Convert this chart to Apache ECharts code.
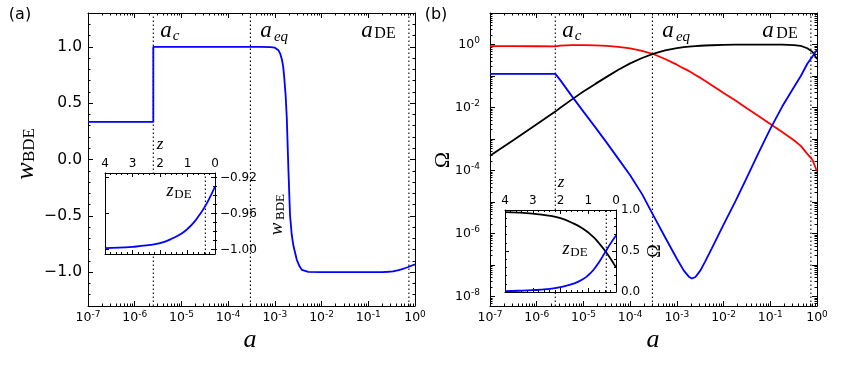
<!DOCTYPE html>
<html>
<head>
<meta charset="utf-8">
<script src="https://cdn.jsdelivr.net/npm/echarts@6/dist/echarts.min.js"></script>
<style>
  html, body { margin: 0; padding: 0; background: #fff; }
  #main { width: 843px; height: 369px; }
</style>
</head>
<body>
<div id="main"></div>
<script>
// (a) w_BDE against scale factor a
var aA = [1e-7, 2.5e-6, 2.5e-6, 1e-5, 1e-4, 5e-4, 8e-4, 1.0e-3, 1.19e-3, 1.3e-3, 1.41e-3, 1.5e-3,
  1.58e-3, 1.7e-3, 1.8e-3, 1.95e-3, 2.11e-3, 2.3e-3, 2.51e-3, 2.95e-3, 3.4e-3, 3.8e-3, 5.2e-3,
  1e-2, 3e-2, 0.1, 0.2, 0.27, 0.337, 0.424, 0.533, 0.625, 0.72, 0.833, 1.0];
var wA = [0.333, 0.333, 1.0, 1.0, 1.0, 1.0, 0.998, 0.992, 0.97, 0.94, 0.89, 0.83,
  0.74, 0.57, 0.37, -0.09, -0.49, -0.67, -0.77, -0.89, -0.95, -0.98, -0.998,
  -1.0, -1.0, -0.9995, -0.999, -0.996, -0.993, -0.984, -0.973, -0.963, -0.954, -0.943, -0.93];

// insets, against redshift z
var zIn = [4, 3.5, 3, 2.5, 2, 1.5, 1.2, 1.0, 0.8, 0.6, 0.4, 0.2, 0];
var wIn = [-0.9985, -0.998, -0.997, -0.9955, -0.993, -0.987, -0.982, -0.977, -0.971, -0.963, -0.954, -0.943, -0.930];
var omInM = [0.975, 0.968, 0.955, 0.935, 0.9, 0.83, 0.775, 0.725, 0.665, 0.59, 0.505, 0.41, 0.30];
var omInDE = [0.011, 0.015, 0.022, 0.035, 0.06, 0.105, 0.155, 0.205, 0.275, 0.37, 0.48, 0.59, 0.69];

// (b) density parameters
var aB = [1e-7, 3.2e-7, 1e-6, 2.5e-6, 3.2e-6, 5.6e-6, 1e-5, 1.8e-5, 3.2e-5, 5.6e-5, 1e-4,
  1.8e-4, 3.2e-4, 5.6e-4, 1e-3, 1.4e-3, 1.8e-3, 2.1e-3, 2.5e-3, 3.2e-3, 4e-3, 5.6e-3,
  1e-2, 1.8e-2, 3.2e-2, 5.6e-2, 0.1, 0.18, 0.32, 0.45, 0.62, 0.8, 1.0];
var omR = [0.883, 0.883, 0.881, 0.877, 0.918, 0.959, 0.962, 0.944, 0.906, 0.841, 0.750,
  0.631, 0.490, 0.347, 0.229, 0.174, 0.145, 0.126, 0.107, 0.0871, 0.0708, 0.0513,
  0.0288, 0.0166, 0.00933, 0.00537, 0.00302, 0.00166, 0.000912, 0.000603, 0.000339, 0.000219, 0.0000933];
var omM = [2.95e-4, 9.33e-4, 2.95e-3, 7.41e-3, 9.77e-3, 0.0178, 0.0324, 0.0562, 0.0955, 0.158, 0.251,
  0.372, 0.513, 0.652, 0.769, 0.824, 0.855, 0.875, 0.893, 0.914, 0.929, 0.948,
  0.970, 0.984, 0.991, 0.993, 0.995, 0.989, 0.955, 0.90, 0.759, 0.583, 0.347];
var omDE = [0.117, 0.117, 0.117, 0.117, 0.0741, 0.0234, 7.41e-3, 2.34e-3, 7.41e-4, 2.34e-4, 7.08e-5,
  1.78e-5, 3.55e-6, 7.59e-7, 1.58e-7, 6.76e-8, 4.27e-8, 3.72e-8, 4.17e-8, 6.76e-8, 1.26e-7, 3.39e-7,
  1.91e-6, 1.07e-5, 6.31e-5, 3.63e-4, 2.09e-3, 0.0107, 0.0437, 0.1, 0.245, 0.417, 0.676];

var aMarks = [2.5e-6, 3.0e-4, 0.74];   // a_c, a_eq, a_DE
var zDE = 0.35;
var yRangeA = [-1.3, 1.3];
var yRangeB = [5e-9, 10];
var yRangeInA = [-1.005, -0.915];
var yRangeInB = [0, 1];
var yTicksA = [-1.0, -0.5, 0.0, 0.5, 1.0];
var yTicksInA = [-1.00, -0.96, -0.92];
var yMinorInA = [-1.00, -0.99, -0.98, -0.97, -0.96, -0.95, -0.94, -0.93, -0.92];

var SANS = '"DejaVu Sans"';
var SERIF = '"Liberation Serif"';
var TICK = '#000';

function pairs(xs, ys) {
  return xs.map(function (x, i) { return [x, ys[i]]; });
}
function minus(v, d) {
  return (v < 0 ? '\u2212' : '') + Math.abs(v).toFixed(d);
}
function supFmt(v, evenOnly) {
  var e = Math.log10(v), n = Math.round(e);
  if (Math.abs(e - n) > 1e-6) return '';
  if (evenOnly && n % 2 !== 0) return '';
  return '{b|10}{s|' + (n < 0 ? '-' + (-n) : n) + '}';
}
var supRich = {
  b: { fontFamily: SANS, fontSize: 12.5, color: '#000' },
  s: { fontFamily: SANS, fontSize: 9, color: '#000', padding: [0, 0, 7, 0] }
};

function line() { return { color: '#000', width: 1 }; }
function tickLine() { return { color: TICK, width: 1 }; }
function ticks(len, extra) {
  return Object.assign({ show: true, inside: true, length: len, lineStyle: tickLine() }, extra || {});
}
function minor(len, n) {
  return { show: true, splitNumber: n, length: len, lineStyle: tickLine() };
}

function logX(grid, pos, labels) {
  return {
    type: 'log', logBase: 10, gridIndex: grid, position: pos, min: 1e-7, max: 1,
    axisLine: { show: true, onZero: false, lineStyle: line() },
    axisTick: ticks(5),
    minorTick: minor(2.5, 9),
    splitLine: { show: false }, minorSplitLine: { show: false },
    axisLabel: labels ? { margin: 4, formatter: function (v) { return supFmt(v, false); }, rich: supRich } : { show: false }
  };
}
function valAxis(o) {
  var base = {
    type: 'value',
    axisLine: { show: true, onZero: false, lineStyle: line() },
    splitLine: { show: false },
    axisLabel: { show: false }
  };
  return Object.assign(base, o);
}

var xAxes = [
  logX(0, 'bottom', true),
  logX(0, 'top', false),
  logX(1, 'bottom', true),
  logX(1, 'top', false)
];
var zTop = {
  min: 0, max: 4, interval: 1, inverse: true, z: 11,
  axisTick: ticks(4),
  minorTick: minor(2, 5)
};
xAxes.push(valAxis(Object.assign({ gridIndex: 2, position: 'top',
  axisLabel: { margin: 3, fontFamily: SANS, fontSize: 12, color: '#000' } }, zTop)));
xAxes.push(valAxis(Object.assign({ gridIndex: 2, position: 'bottom' }, zTop)));
xAxes.push(valAxis(Object.assign({ gridIndex: 3, position: 'top',
  axisLabel: { margin: 3, fontFamily: SANS, fontSize: 12, color: '#000' } }, zTop)));
xAxes.push(valAxis(Object.assign({ gridIndex: 3, position: 'bottom' }, zTop)));

var yAxes = [];
// (a) main: 0 left labels, 1 right, 2/3 minor ticks
['left', 'right'].forEach(function (p) {
  yAxes.push(valAxis({
    gridIndex: 0, position: p, min: yRangeA[0], max: yRangeA[1],
    axisTick: ticks(5, { customValues: yTicksA }),
    axisLabel: p === 'left' ? { customValues: yTicksA, margin: 6, fontFamily: SANS, fontSize: 15.5, color: '#000',
      formatter: function (v) { return minus(v, 1); } } : { show: false }
  }));
});
['left', 'right'].forEach(function (p) {
  yAxes.push(valAxis({
    gridIndex: 0, position: p, min: yRangeA[0], max: yRangeA[1], interval: 0.1,
    axisLine: { show: false },
    axisTick: ticks(2.5)
  }));
});
// (b) main: 4 left labels, 5 right
['left', 'right'].forEach(function (p) {
  yAxes.push({
    type: 'log', logBase: 10, gridIndex: 1, position: p, min: yRangeB[0], max: yRangeB[1],
    axisLine: { show: true, onZero: false, lineStyle: line() },
    axisTick: ticks(5),
    minorTick: minor(2.5, 9),
    splitLine: { show: false }, minorSplitLine: { show: false },
    axisLabel: p === 'left' ? { margin: 10, formatter: function (v) { return supFmt(v, true); }, rich: supRich } : { show: false }
  });
});
// inset (a): 6 right labels, 7 left, 8/9 minor
['right', 'left'].forEach(function (p) {
  yAxes.push(valAxis({
    gridIndex: 2, position: p, min: yRangeInA[0], max: yRangeInA[1], z: 11,
    axisTick: ticks(4, { customValues: yTicksInA }),
    axisLabel: p === 'right' ? { customValues: yTicksInA, margin: 5, fontFamily: SANS, fontSize: 12, color: '#000',
      formatter: function (v) { return minus(v, 2); } } : { show: false }
  }));
});
['right', 'left'].forEach(function (p) {
  yAxes.push(valAxis({
    gridIndex: 2, position: p, min: yRangeInA[0], max: yRangeInA[1], z: 11,
    axisLine: { show: false },
    axisTick: ticks(2, { customValues: yMinorInA })
  }));
});
// inset (b): 10 right labels, 11 left
['right', 'left'].forEach(function (p) {
  yAxes.push(valAxis({
    gridIndex: 3, position: p, min: yRangeInB[0], max: yRangeInB[1], interval: 0.5, z: 11,
    axisTick: ticks(4),
    minorTick: minor(2, 5),
    axisLabel: p === 'right' ? { margin: 5, fontFamily: SANS, fontSize: 12, color: '#000',
      formatter: function (v) { return v.toFixed(1); } } : { show: false }
  }));
});

function curve(xi, yi, data, color, extra) {
  return Object.assign({
    type: 'line', xAxisIndex: xi, yAxisIndex: yi, data: data, symbol: 'none', silent: true,
    animation: false, lineStyle: { color: color, width: 1.8 }, itemStyle: { color: color }
  }, extra || {});
}
// vertical dotted guide spanning the y range of its grid
function guide(xi, yi, x, yr, z) {
  return {
    type: 'line', xAxisIndex: xi, yAxisIndex: yi, data: [[x, yr[0]], [x, yr[1]]],
    symbol: 'none', silent: true, animation: false, z: z,
    lineStyle: { color: '#000', width: 1.1, type: [1.5, 2.5] }
  };
}

function txt(x, y, s, font, rot) {
  return {
    type: 'text', x: x, y: y, rotation: rot || 0, z: 50, silent: true,
    style: { text: s, font: font, fill: '#000', align: 'center', verticalAlign: 'middle',
      textAlign: 'center', textVerticalAlign: 'middle' }
  };
}
var IT = function (px) { return 'italic ' + px + 'px ' + SERIF; };
var RM = function (px) { return px + 'px ' + SERIF; };
var R90 = Math.PI / 2;

var graphics = [
  txt(20, 15, '(a)', '16px ' + SANS),
  txt(436, 15, '(b)', '16px ' + SANS),
  // panel (a) markers
  txt(166, 31, 'a', IT(23)), txt(176, 36, 'c', IT(15)),
  txt(266, 31, 'a', IT(23)), txt(281, 37, 'eq', IT(15)),
  txt(367, 31, 'a', IT(23)), txt(385, 34, 'DE', RM(16)),
  // panel (b) markers
  txt(568, 31, 'a', IT(23)), txt(578, 36, 'c', IT(15)),
  txt(668, 31, 'a', IT(23)), txt(683, 37, 'eq', IT(15)),
  txt(768, 31, 'a', IT(23)), txt(787, 34, 'DE', RM(16)),
  // axis titles
  txt(250, 340, 'a', IT(26)),
  txt(653, 340, 'a', IT(26)),
  txt(26, 171, 'w', IT(26), R90), txt(30, 145, 'BDE', RM(17), R90),
  txt(443, 160, '\u03a9', RM(22), R90),
  // inset (a)
  txt(160, 145, 'z', IT(17)),
  txt(170, 191, 'z', IT(18)), txt(183, 195, 'DE', RM(13)),
  txt(277, 229, 'w', IT(19), R90), txt(281, 207, 'BDE', RM(13), R90),
  // inset (b)
  txt(561, 183, 'z', IT(17)),
  txt(566, 249, 'z', IT(18)), txt(579, 253, 'DE', RM(13)),
  txt(655, 251, '\u03a9', RM(18), R90)
];

var series = [];
aMarks.forEach(function (m) {
  series.push(guide(0, 0, m, yRangeA, 1));
  series.push(guide(2, 4, m, yRangeB, 1));
});
series.push(curve(0, 0, pairs(aA, wA), '#0000ff'));
series.push(curve(2, 4, pairs(aB, omR), '#ff0000'));
series.push(curve(2, 4, pairs(aB, omM), '#000000'));
series.push(curve(2, 4, pairs(aB, omDE), '#0000ff'));
series.push(guide(4, 6, zDE, yRangeInA, 12));
series.push(guide(6, 10, zDE, yRangeInB, 12));
series.push(curve(4, 6, pairs(zIn, wIn), '#0000ff', { smooth: true, z: 13 }));
series.push(curve(6, 10, pairs(zIn, omInM), '#000000', { smooth: true, z: 13 }));
series.push(curve(6, 10, pairs(zIn, omInDE), '#0000ff', { smooth: true, z: 13 }));

var chart = echarts.init(document.getElementById('main'));
chart.setOption({
  animation: false,
  backgroundColor: '#fff',
  grid: [
    { left: 88, top: 13, width: 327, height: 293 },
    { left: 490, top: 13, width: 327, height: 293 },
    { left: 105, top: 173, width: 110, height: 81, show: true, backgroundColor: '#fff', borderWidth: 0, z: 10 },
    { left: 505, top: 210, width: 111, height: 82, show: true, backgroundColor: '#fff', borderWidth: 0, z: 10 }
  ],
  xAxis: xAxes,
  yAxis: yAxes,
  series: series,
  graphic: graphics
});
</script>
</body>
</html>
